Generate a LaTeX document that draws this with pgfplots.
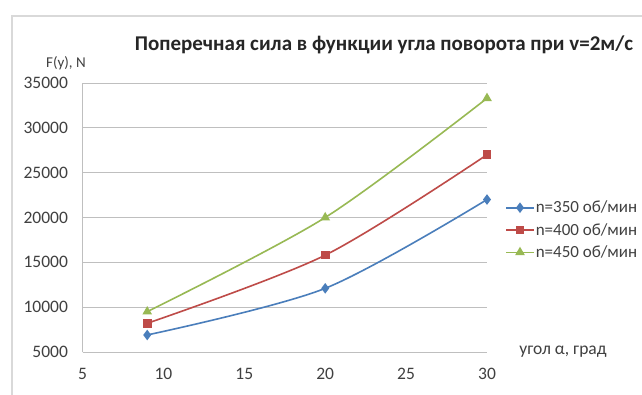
\documentclass[border=0pt]{standalone}
\usepackage{pgfplots}
\pgfplotsset{compat=1.18}
\usepackage{fontspec}
\setmainfont{Carlito}
\definecolor{sblue}{HTML}{4A7EBB}
\definecolor{sred}{HTML}{BE4B48}
\definecolor{sgreen}{HTML}{98B954}
\definecolor{gridc}{HTML}{BFBFBF}
\definecolor{txt}{HTML}{404040}
\begin{document}
\begin{tikzpicture}[x=1pt,y=1pt]
\useasboundingbox (0,0) rectangle (642,394);
\clip (0,0) rectangle (642,394);
\fill[white] (0,0) rectangle (642,394);
\draw[gray!30, line width=1.2pt] (12,-5) -- (12,378) -- (650,378);
\node[font=\fontsize{21}{24}\selectfont\bfseries, text=black!85] at (384,349) {Поперечная сила в функции угла поворота при v=2м/с};
\node[font=\fontsize{15}{17}\selectfont, text=txt] at (66,331) {F(y), N};
\node[font=\fontsize{17.5}{20}\selectfont, text=txt] at (563,42) {угол α, град};
\begin{axis}[
  scale only axis,
  width=404.5pt, height=269pt,
  at={(82.5pt,42pt)}, anchor=south west,
  xmin=5, xmax=30, ymin=5000, ymax=35000,
  xtick={5,10,...,30}, ytick={5000,10000,...,35000},
  scaled ticks=false,
  axis lines*=left,
  axis line style={gridc, line width=1pt},
  ymajorgrids, grid style={gridc, line width=1pt},
  major tick length=0pt,
  tick label style={font=\fontsize{17.5}{19}\selectfont, text=txt},
  /pgf/number format/assume math mode=true,
  /pgf/number format/1000 sep={},
  xticklabel style={yshift=-13pt},
  yticklabel style={xshift=-11pt},
  every axis plot/.append style={line width=1.6pt, smooth, tension=0.5},
  legend cell align=left,
  legend image code/.code={\draw[#1,mark repeat=2,mark phase=2] plot coordinates {(0pt,0pt) (14pt,0pt) (28pt,0pt)};},
  legend style={at={(1.0445,0.4535)}, anchor=west, draw=none, fill=none,
    font=\fontsize{17}{19}\selectfont, text=txt, row sep=7pt, inner sep=0pt,
    nodes={inner sep=1pt}},
]
\addplot[sblue, mark=diamond*, mark size=4pt, mark options={solid}] coordinates {(9,6900) (20,12100) (30,22000)};
\addlegendentry{n=350 об/мин}
\addplot[sred, mark=square*, mark size=3.5pt] coordinates {(9,8200) (20,15800) (30,27000)};
\addlegendentry{n=400 об/мин}
\addplot[sgreen, mark=triangle*, mark size=4pt] coordinates {(9,9500) (20,20000) (30,33300)};
\addlegendentry{n=450 об/мин}
\end{axis}
\end{tikzpicture}
\end{document}
